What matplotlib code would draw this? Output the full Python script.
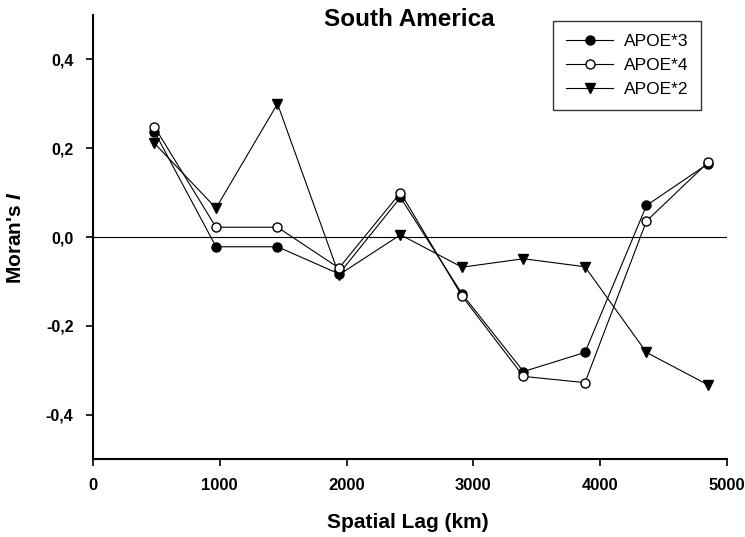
import matplotlib.pyplot as plt
import numpy as np

plt.rcParams['font.family'] = ['Liberation Sans', 'DejaVu Sans']
plt.rcParams['mathtext.fontset'] = 'custom'
plt.rcParams['mathtext.it'] = 'Liberation Sans:italic:bold'

lag = [485, 970, 1455, 1940, 2425, 2910, 3395, 3880, 4365, 4850]
apoe3 = [0.237, -0.022, -0.022, -0.083, 0.089, -0.128, -0.303, -0.260, 0.071, 0.165]
apoe4 = [0.248, 0.022, 0.022, -0.070, 0.100, -0.133, -0.314, -0.328, 0.036, 0.168]
apoe2 = [0.211, 0.065, 0.300, -0.085, 0.005, -0.068, -0.049, -0.067, -0.260, -0.333]

xticks = [0, 1000, 2000, 3000, 4000, 5000]
yticks = [-0.4, -0.2, 0.0, 0.2, 0.4]
ytick_labels = ["-0,4", "-0,2", "0,0", "0,2", "0,4"]

fig = plt.figure(figsize=(7.45, 5.37), dpi=100)
ax = fig.add_axes([93 / 745, 1 - 459 / 537, 634 / 745, 444 / 537])

ax.axhline(0, color='black', lw=0.8, zorder=1)
ax.plot(lag, apoe3, '-o', color='black', lw=0.8, ms=6.5, mfc='black', mec='black', label='APOE*3', zorder=3)
ax.plot(lag, apoe4, '-o', color='black', lw=0.8, ms=6.5, mfc='white', mec='black', label='APOE*4', zorder=4)
ax.plot(lag, apoe2, '-v', color='black', lw=0.8, ms=7, mfc='black', mec='black', label='APOE*2', zorder=2)

ax.set_xlim(0, 5000)
ax.set_ylim(-0.5, 0.5)
ax.set_xticks(xticks)
ax.set_xticklabels([str(t) for t in xticks], fontweight='bold', fontsize=12)
ax.set_yticks(yticks)
ax.set_yticklabels(ytick_labels, fontweight='bold', fontsize=11.5)
ax.tick_params(direction='out', length=5, width=1.2)
ax.tick_params(axis='x', pad=9)
ax.tick_params(axis='y', pad=9)

for s in ['top', 'right']:
    ax.spines[s].set_visible(False)
for s in ['left', 'bottom']:
    ax.spines[s].set_linewidth(1.5)

fig.text(408 / 745, 1 - 523 / 537, 'Spatial Lag (km)', fontweight='bold', fontsize=15,
         ha='center', va='center')
fig.text(16 / 745, 1 - 237 / 537, "Moran's $\\it{I}$", fontweight='bold', fontsize=15,
         ha='center', va='center', rotation=90)
fig.text(409 / 745, 1 - 19 / 537, 'South America', fontweight='bold', fontsize=17.5,
         ha='center', va='center')

leg = ax.legend(loc='upper right', bbox_to_anchor=(701 / 745, 1 - 21 / 537),
                bbox_transform=fig.transFigure, fontsize=12.5, frameon=True,
                fancybox=False, handlelength=2.7, handletextpad=0.6,
                borderpad=0.75, labelspacing=0.5, borderaxespad=0)
leg.get_frame().set_edgecolor('black')
leg.get_frame().set_linewidth(1.0)

fig.savefig('out.png', dpi=100)
